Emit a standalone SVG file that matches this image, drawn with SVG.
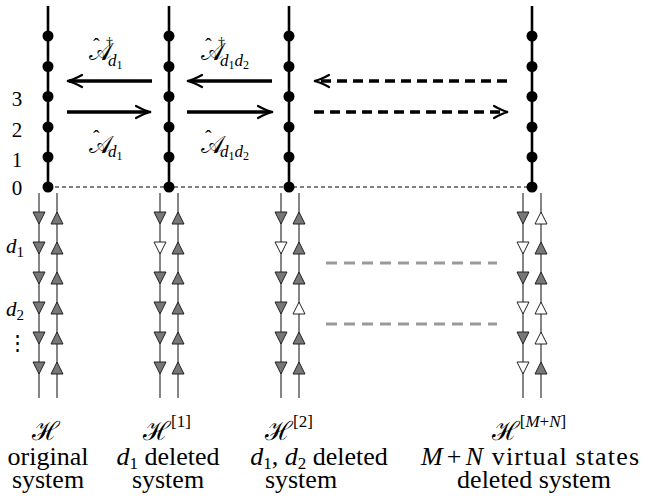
<svg xmlns="http://www.w3.org/2000/svg" width="645" height="498" viewBox="0 0 645 498">
<style>
text{font-family:"Liberation Serif","Times New Roman",serif;fill:#000}
.lbl{font-size:26px;text-anchor:middle}
.num{font-size:21px;text-anchor:middle}
.it{font-style:italic}
.col{stroke:#000;stroke-width:2.6;fill:none}
.dot{fill:#000}
.arr{stroke:#000;stroke-width:3.5;fill:none}
.darr{stroke:#000;stroke-width:3.5;fill:none;stroke-dasharray:10 6}
.head{stroke:#000;stroke-width:2.2;fill:none;stroke-linecap:round}
.thin{stroke:#444;stroke-width:1.3;fill:none}
.g{fill:#777;stroke:#222;stroke-width:1}
.w{fill:#fff;stroke:#222;stroke-width:1}
.gd{stroke:#999;stroke-width:3;stroke-dasharray:11 7;fill:none}
.zero{stroke:#000;stroke-width:1;stroke-dasharray:4 3;fill:none}
.op{font-size:24px}
.hat{font-size:20px}
.dag{font-size:14px}
.sub{font-size:17px;font-style:italic}
.sub2{font-size:12px;font-style:normal}
</style>
<defs>
<g id="dots">
<circle class="dot" cx="0" cy="36" r="5.5"/><circle class="dot" cx="0" cy="66.5" r="5.5"/><circle class="dot" cx="0" cy="96.5" r="5.5"/><circle class="dot" cx="0" cy="127" r="5.5"/><circle class="dot" cx="0" cy="157" r="5.5"/><circle class="dot" cx="0" cy="187" r="5.5"/>
</g>
<path id="dn" d="M-6,-6 L6,-6 L0,6 Z"/>
<path id="up" d="M-6,6 L6,6 L0,-6 Z"/>
</defs>

<g id="levels">
<line class="zero" x1="48" y1="187" x2="532" y2="187"/>
<text class="num" x="17" y="106">3</text>
<text class="num" x="17" y="136.5">2</text>
<text class="num" x="17" y="166.5">1</text>
<text class="num" x="17" y="194.5">0</text>
</g>

<g id="col-H">
<line class="col" x1="48" y1="6" x2="48" y2="187"/>
<use href="#dots" x="48"/>
<line class="thin" x1="39" y1="193" x2="39" y2="398"/>
<line class="thin" x1="57" y1="193" x2="57" y2="398"/>
<use href="#dn" class="g" x="39" y="218"/><use href="#dn" class="g" x="39" y="248"/><use href="#dn" class="g" x="39" y="278"/><use href="#dn" class="g" x="39" y="308"/><use href="#dn" class="g" x="39" y="338"/><use href="#dn" class="g" x="39" y="368"/>
<use href="#up" class="g" x="57" y="218"/><use href="#up" class="g" x="57" y="248"/><use href="#up" class="g" x="57" y="278"/><use href="#up" class="g" x="57" y="308"/><use href="#up" class="g" x="57" y="338"/><use href="#up" class="g" x="57" y="368"/>
<text class="num it" x="15" y="253" font-size="22">d<tspan font-size="15" font-style="normal" dy="4">1</tspan></text>
<text class="num it" x="15" y="316" font-size="22">d<tspan font-size="15" font-style="normal" dy="4">2</tspan></text>
<text class="num" x="17" y="350">⋮</text>
<text class="lbl" x="46" y="440">ℋ</text>
<text class="lbl" x="48" y="465">original</text>
<text class="lbl" x="48" y="488">system</text>
</g>

<g id="col-H1">
<line class="col" x1="169" y1="6" x2="169" y2="187"/>
<use href="#dots" x="169"/>
<line class="thin" x1="160" y1="193" x2="160" y2="398"/>
<line class="thin" x1="178" y1="193" x2="178" y2="398"/>
<use href="#dn" class="g" x="160" y="218"/><use href="#dn" class="w" x="160" y="248"/><use href="#dn" class="g" x="160" y="278"/><use href="#dn" class="g" x="160" y="308"/><use href="#dn" class="g" x="160" y="338"/><use href="#dn" class="g" x="160" y="368"/>
<use href="#up" class="g" x="178" y="218"/><use href="#up" class="g" x="178" y="248"/><use href="#up" class="g" x="178" y="278"/><use href="#up" class="g" x="178" y="308"/><use href="#up" class="g" x="178" y="338"/><use href="#up" class="g" x="178" y="368"/>
<text class="lbl" x="167" y="440">ℋ<tspan font-size="17" dy="-13">[1]</tspan></text>
<text class="lbl" x="168" y="465"><tspan class="it">d</tspan><tspan font-size="17" dy="4">1</tspan><tspan dy="-4"> deleted</tspan></text>
<text class="lbl" x="168" y="488">system</text>
</g>

<g id="col-H2">
<line class="col" x1="289" y1="6" x2="289" y2="187"/>
<use href="#dots" x="289"/>
<line class="thin" x1="281" y1="193" x2="281" y2="398"/>
<line class="thin" x1="299" y1="193" x2="299" y2="398"/>
<use href="#dn" class="g" x="281" y="218"/><use href="#dn" class="w" x="281" y="248"/><use href="#dn" class="g" x="281" y="278"/><use href="#dn" class="g" x="281" y="308"/><use href="#dn" class="g" x="281" y="338"/><use href="#dn" class="g" x="281" y="368"/>
<use href="#up" class="g" x="299" y="218"/><use href="#up" class="g" x="299" y="248"/><use href="#up" class="g" x="299" y="278"/><use href="#up" class="w" x="299" y="308"/><use href="#up" class="g" x="299" y="338"/><use href="#up" class="g" x="299" y="368"/>
<text class="lbl" x="289" y="440">ℋ<tspan font-size="17" dy="-13">[2]</tspan></text>
<text class="lbl" x="319" y="465"><tspan class="it">d</tspan><tspan font-size="17" dy="4">1</tspan><tspan dy="-4">, </tspan><tspan class="it">d</tspan><tspan font-size="17" dy="4">2</tspan><tspan dy="-4"> deleted</tspan></text>
<text class="lbl" x="301" y="488">system</text>
</g>

<g id="col-HMN">
<line class="col" x1="532" y1="6" x2="532" y2="187"/>
<use href="#dots" x="532"/>
<line class="thin" x1="523" y1="193" x2="523" y2="398"/>
<line class="thin" x1="541" y1="193" x2="541" y2="398"/>
<use href="#dn" class="g" x="523" y="218"/><use href="#dn" class="w" x="523" y="248"/><use href="#dn" class="g" x="523" y="278"/><use href="#dn" class="w" x="523" y="308"/><use href="#dn" class="g" x="523" y="338"/><use href="#dn" class="w" x="523" y="368"/>
<use href="#up" class="w" x="541" y="218"/><use href="#up" class="g" x="541" y="248"/><use href="#up" class="g" x="541" y="278"/><use href="#up" class="w" x="541" y="308"/><use href="#up" class="w" x="541" y="338"/><use href="#up" class="g" x="541" y="368"/>
<text class="lbl" x="529" y="440">ℋ<tspan font-size="17" dy="-13">[<tspan class="it">M</tspan>+<tspan class="it">N</tspan>]</tspan></text>
<text class="lbl" x="530" y="465" textLength="218"><tspan class="it">M</tspan><tspan dx="3">+</tspan><tspan class="it" dx="3">N</tspan> virtual states</text>
<text class="lbl" x="534" y="488">deleted system</text>
</g>

<g id="connectors">
<line class="arr" x1="152" y1="81" x2="69" y2="81"/>
<path class="head" d="M82,75 Q73,80 67,81 Q73,82 82,87"/>
<line class="arr" x1="67" y1="112" x2="148" y2="112"/>
<path class="head" d="M136,106 Q145,111 151,112 Q145,113 136,118"/>
<line class="arr" x1="272" y1="81" x2="190" y2="81"/>
<path class="head" d="M202,75 Q193,80 187,81 Q193,82 202,87"/>
<line class="arr" x1="187" y1="112" x2="270" y2="112"/>
<path class="head" d="M258,106 Q267,111 273,112 Q267,113 258,118"/>
<line class="darr" x1="507" y1="81" x2="318" y2="81"/>
<path class="head" d="M329,75 Q320,80 314,81 Q320,82 329,87"/>
<line class="darr" x1="314" y1="112" x2="504" y2="112"/>
<path class="head" d="M494,106 Q503,111 508,112 Q503,113 494,118"/>
<line class="gd" x1="326" y1="263" x2="497" y2="263"/>
<line class="gd" x1="326" y1="324" x2="497" y2="324"/>
</g>

<g id="op-labels">
<text class="op" x="89" y="60">𝒜<tspan class="hat" x="93" y="53">ˆ</tspan><tspan class="dag" x="106" y="47">†</tspan><tspan class="sub" x="108" y="66">d</tspan><tspan class="sub2" dy="3">1</tspan></text>
<text class="op" x="201" y="60">𝒜<tspan class="hat" x="205" y="53">ˆ</tspan><tspan class="dag" x="218" y="47">†</tspan><tspan class="sub" x="220" y="66">d</tspan><tspan class="sub2" dy="3">1</tspan><tspan class="sub" dy="-3">d</tspan><tspan class="sub2" dy="3">2</tspan></text>
<text class="op" x="89" y="153">𝒜<tspan class="hat" x="93" y="145">ˆ</tspan><tspan class="sub" x="108" y="157">d</tspan><tspan class="sub2" dy="3">1</tspan></text>
<text class="op" x="201" y="153">𝒜<tspan class="hat" x="205" y="145">ˆ</tspan><tspan class="sub" x="220" y="157">d</tspan><tspan class="sub2" dy="3">1</tspan><tspan class="sub" dy="-3">d</tspan><tspan class="sub2" dy="3">2</tspan></text>
</g>
</svg>
